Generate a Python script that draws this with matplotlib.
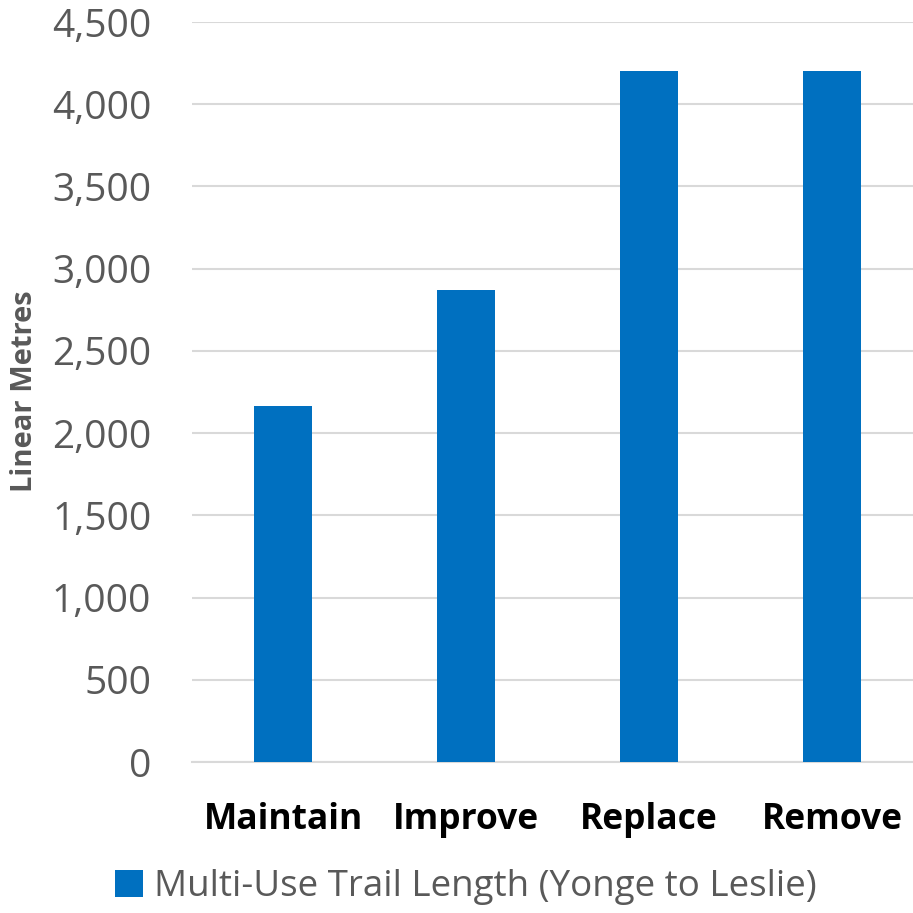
import matplotlib.pyplot as plt
from matplotlib.ticker import FuncFormatter

# Trail length by treatment option
categorias = ['Maintain', 'Improve', 'Replace', 'Remove']
comprimentos = [2165, 2870, 4200, 4200]
serie = 'Multi-Use Trail Length (Yonge to Leslie)'

azul = '#0070C0'
cinza = '#595959'

plt.rcParams['font.family'] = ['Open Sans', 'DejaVu Sans']

fig = plt.figure(figsize=(9.13, 9.13), dpi=100)
ax = fig.add_axes([191.5 / 913, 151 / 913, 732 / 913, 740 / 913])

x = range(len(categorias))
ax.bar(x, comprimentos, width=0.32, color=azul, zorder=3, label=serie)

ax.set_xlim(-0.5, len(categorias) - 0.5)
ax.set_ylim(0, 4500)
ax.set_yticks(range(0, 4501, 500))
ax.yaxis.set_major_formatter(FuncFormatter(lambda v, p: f'{int(v):,}'))
ax.set_xticks(list(x))
ax.set_xticklabels(categorias, fontsize=25.5, fontweight='bold', color='black')
ax.tick_params(axis='y', labelsize=28, colors=cinza, length=0, pad=29)
ax.tick_params(axis='x', length=0, pad=29)

ax.grid(axis='y', color='#d9d9d9', linewidth=1.5, zorder=0)
for lado in ['top', 'right', 'left']:
    ax.spines[lado].set_visible(False)
ax.spines['bottom'].set_color('#d9d9d9')
ax.spines['bottom'].set_linewidth(1.5)

fig.text(0.027, 0.571, 'Linear Metres', rotation=90, fontsize=21, fontweight='bold',
         color=cinza, ha='center', va='center')

fig.legend(loc='center', bbox_to_anchor=(0.51, 0.028), frameon=False, fontsize=26.5,
           labelcolor=cinza, handlelength=0.75, handleheight=0.75, handletextpad=0.3)

fig.savefig('out.png', dpi=100)
